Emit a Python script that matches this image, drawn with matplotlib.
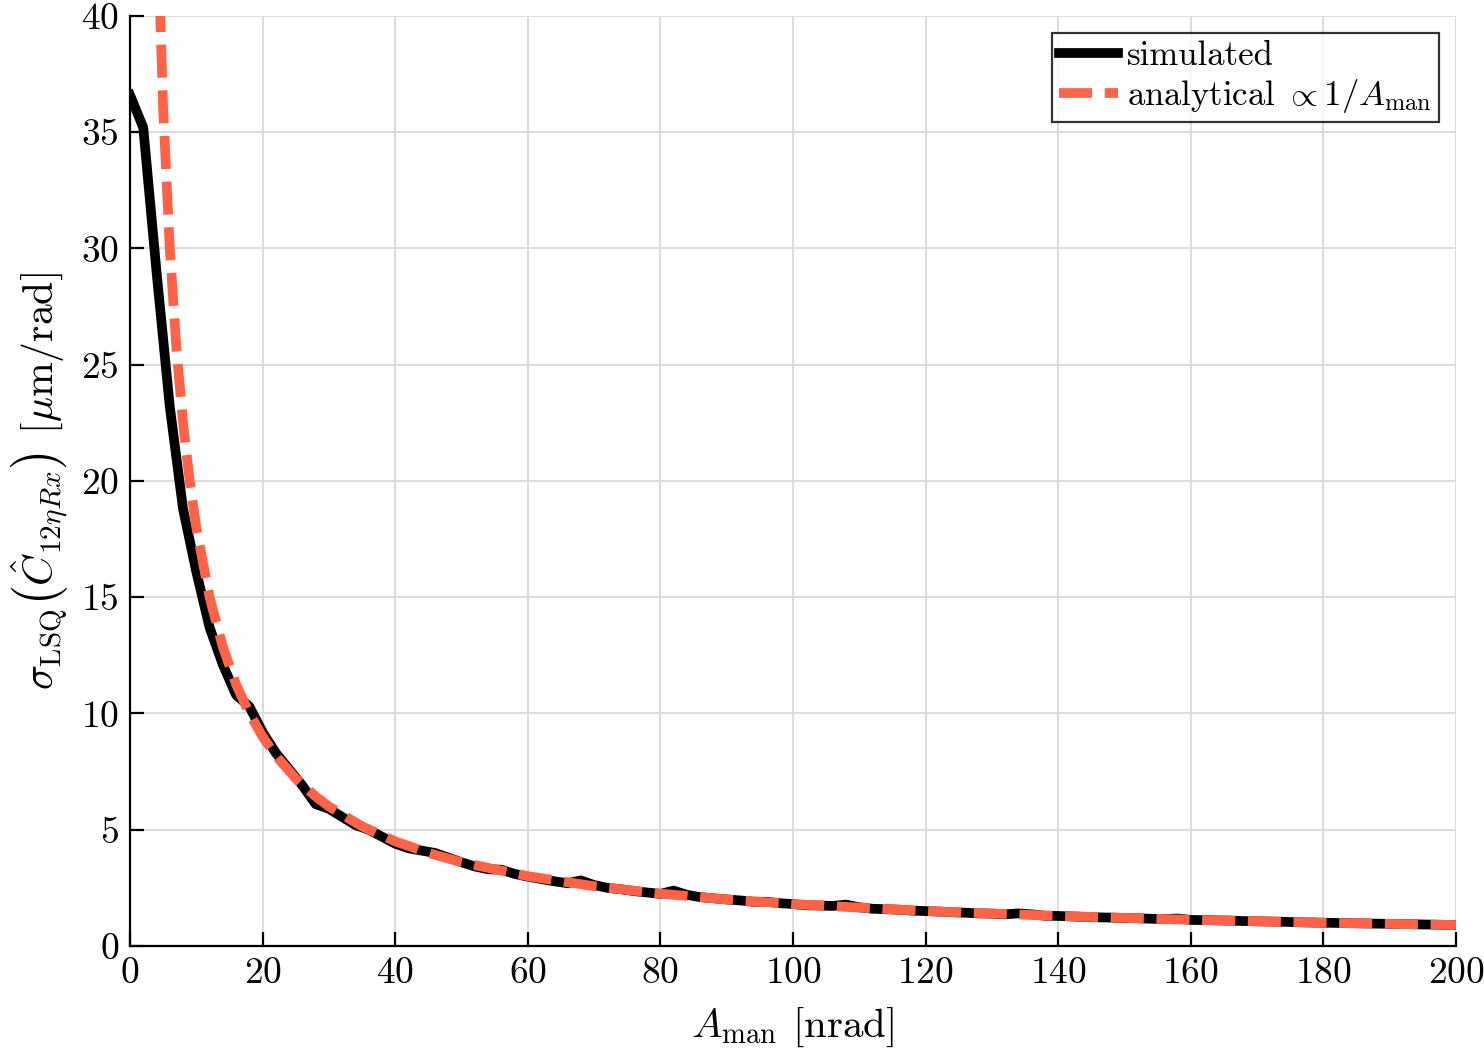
import matplotlib
matplotlib.use("Agg")
import matplotlib.pyplot as plt
import numpy as np

plt.rcParams['font.family'] = ['cmr10', 'DejaVu Serif']
plt.rcParams['mathtext.fontset'] = 'cm'
plt.rcParams['axes.formatter.use_mathtext'] = True

# simulated sigma, sampled every 2 nrad
a_sim = list(range(0, 201, 2))
sigma_sim = [36.6, 35.2, 29.0, 23.2, 18.8, 16.1, 13.7, 12.1, 10.8, 10.3,
             9.2, 8.3, 7.6, 6.9, 6.1, 5.9, 5.55, 5.2, 5.0, 4.7,
             4.4, 4.2, 4.1, 4.0, 3.8, 3.6, 3.42, 3.3, 3.28, 3.1,
             2.98, 2.88, 2.78, 2.70, 2.82, 2.62, 2.5, 2.44, 2.36, 2.3,
             2.24, 2.38, 2.2, 2.1, 2.05, 2.0, 1.96, 1.9, 1.9, 1.84,
             1.8, 1.75, 1.74, 1.72, 1.78, 1.66, 1.6, 1.58, 1.56, 1.52,
             1.5, 1.48, 1.45, 1.43, 1.4, 1.39, 1.36, 1.4, 1.36, 1.3,
             1.29, 1.27, 1.25, 1.23, 1.22, 1.2, 1.19, 1.17, 1.16, 1.18,
             1.12, 1.11, 1.1, 1.09, 1.07, 1.06, 1.05, 1.04, 1.02, 1.01,
             1.0, 0.99, 0.98, 0.97, 0.96, 0.95, 0.94, 0.93, 0.92, 0.91,
             0.9]

# analytical curve (~1/A)
a_ana = [4, 5, 6, 7, 8, 9, 10, 12, 14, 16, 18, 20, 22, 25, 28, 30, 35, 40,
         45, 50, 60, 70, 80, 90, 100, 120, 140, 160, 180, 200]
sigma_ana = [45.0, 36.0, 30.0, 25.71, 22.5, 20.0, 18.0, 15.0, 12.86, 11.25,
             10.0, 9.0, 8.18, 7.2, 6.43, 6.0, 5.14, 4.5,
             4.0, 3.6, 3.0, 2.57, 2.25, 2.0, 1.8, 1.5, 1.29, 1.125, 1.0, 0.9]

xticks = list(range(0, 201, 20))
yticks = list(range(0, 41, 5))

fig = plt.figure(figsize=(14.84, 10.52), dpi=100)
ax = fig.add_axes([0.0876, 0.1008, 0.8935, 0.884])

ax.plot(a_sim, sigma_sim, color='black', lw=7, label='simulated',
        solid_joinstyle='round', zorder=3)
ax.plot(a_ana, sigma_ana, color='#ff6347', lw=7, ls=(0, (3.4, 1.3)),
        label=r'$\mathrm{analytical}\ \propto 1/A_{\mathrm{man}}$', zorder=4)

ax.set_xlim(0, 200)
ax.set_ylim(0, 40)
ax.set_xticks(xticks)
ax.set_yticks(yticks)
ax.grid(True, color='#dcdcdc', lw=1.5)
ax.set_axisbelow(True)

for s in ['top', 'right']:
    ax.spines[s].set_visible(False)
for s in ['left', 'bottom']:
    ax.spines[s].set_linewidth(1.6)
ax.tick_params(direction='in', length=10, width=1.6, labelsize=27, pad=8)

ax.set_xlabel(r'$A_{\mathrm{man}}$ [nrad]', fontsize=29.5, labelpad=11)
ax.set_ylabel(r'$\sigma_{\mathrm{LSQ}}\left(\hat{C}_{12\eta Rx}\right)$ [$\mu$m/rad]',
              fontsize=30, labelpad=8)

leg = ax.legend(loc='upper right', fontsize=25, frameon=True, fancybox=False,
                handlelength=1.7, handletextpad=0.25, borderpad=0.2,
                labelspacing=0.15, borderaxespad=0.5)
leg.get_frame().set_edgecolor('black')
leg.get_frame().set_linewidth(1.6)

fig.savefig('out.png', dpi=100)
